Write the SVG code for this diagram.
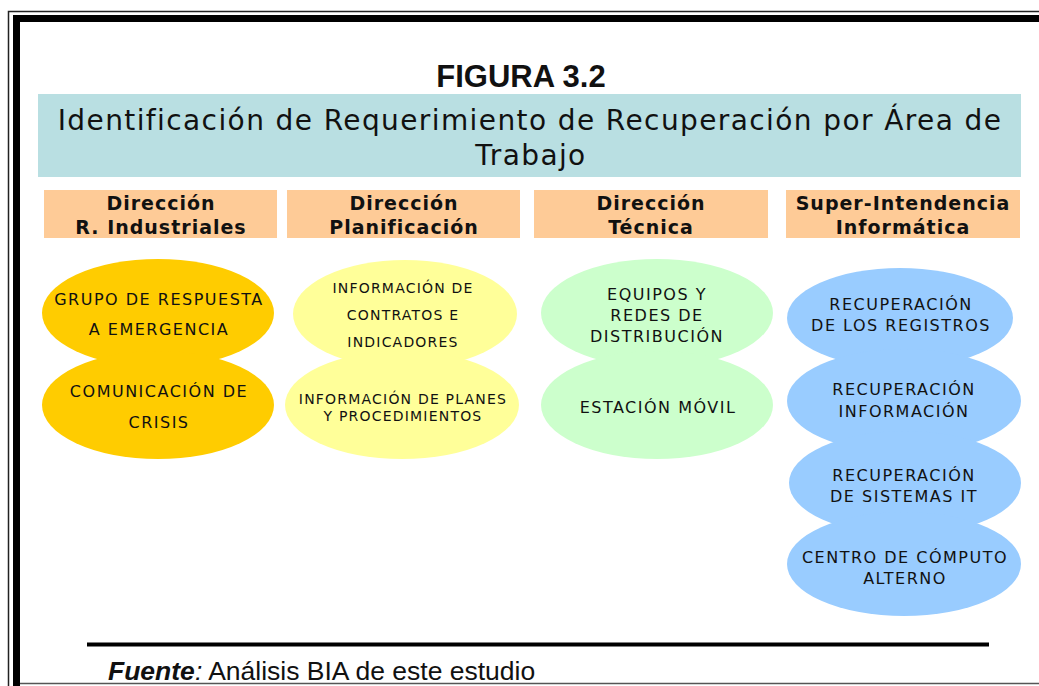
<svg xmlns="http://www.w3.org/2000/svg" width="1039" height="686" viewBox="0 0 1039 686">
<style>
.hdr{fill:#FECB97}
.hdrt{font-family:"DejaVu Sans",Verdana,sans-serif;font-weight:bold;font-size:19px;letter-spacing:1px;fill:#111;text-anchor:middle}
.t16{font-family:"DejaVu Sans",Verdana,sans-serif;font-size:16px;letter-spacing:1.5px;fill:#111;text-anchor:middle}
.t14{font-family:"DejaVu Sans",Verdana,sans-serif;font-size:14px;letter-spacing:1.2px;fill:#111;text-anchor:middle}
.ttl{font-family:"DejaVu Sans",Verdana,sans-serif;font-size:28px;letter-spacing:1.4px;fill:#111;text-anchor:middle}
.or{fill:#FFCC00}.ye{fill:#FFFF99}.gr{fill:#CCFFCC}.bl{fill:#99CCFF}
</style>
<rect width="1039" height="686" fill="#fff"/>
<g id="frame" fill="none">
<path d="M8.5 686V11.5H1039" stroke="#222" stroke-width="1.5"/>
<path d="M16.5 686V18.5H1039" stroke="#000" stroke-width="7"/>
<path d="M20 683.5H1039" stroke="#555" stroke-width="1.5"/>
</g>
<text x="521" y="87" font-family="Liberation Sans,Arial,sans-serif" font-weight="bold" font-size="31" fill="#111" text-anchor="middle">FIGURA 3.2</text>
<g id="title">
<rect x="38" y="94" width="983" height="83" fill="#B9DFE2"/>
<text class="ttl" x="530" y="130">Identificación de Requerimiento de Recuperación por Área de</text>
<text class="ttl" x="531" y="165">Trabajo</text>
</g>
<g id="h1"><rect class="hdr" x="44" y="190" width="233" height="48"/><text class="hdrt" x="161" y="210">Dirección</text><text class="hdrt" x="161" y="234">R. Industriales</text></g>
<g id="h2"><rect class="hdr" x="287" y="190" width="233" height="48"/><text class="hdrt" x="404" y="210">Dirección</text><text class="hdrt" x="404" y="234">Planificación</text></g>
<g id="h3"><rect class="hdr" x="534" y="190" width="234" height="48"/><text class="hdrt" x="651" y="210">Dirección</text><text class="hdrt" x="651" y="234">Técnica</text></g>
<g id="h4"><rect class="hdr" x="786" y="190" width="234" height="48"/><text class="hdrt" x="903" y="210">Super-Intendencia</text><text class="hdrt" x="903" y="234">Informática</text></g>
<g id="connectors"/>
<g id="n1a"><ellipse class="or" cx="158" cy="313" rx="116" ry="54"/><text class="t16" x="159" y="305">GRUPO DE RESPUESTA</text><text class="t16" x="159" y="335">A EMERGENCIA</text></g>
<g id="n1b"><ellipse class="or" cx="158" cy="405" rx="116" ry="54"/><text class="t16" x="159" y="397">COMUNICACIÓN DE</text><text class="t16" x="159" y="428">CRISIS</text></g>
<g id="n2a"><ellipse class="ye" cx="405" cy="314" rx="112" ry="54"/><text class="t14" x="403" y="293">INFORMACIÓN DE</text><text class="t14" x="403" y="320">CONTRATOS E</text><text class="t14" x="403" y="347">INDICADORES</text></g>
<g id="n2b"><ellipse class="ye" cx="402" cy="405" rx="117" ry="54"/><text class="t14" x="403" y="404">INFORMACIÓN DE PLANES</text><text class="t14" x="403" y="421">Y PROCEDIMIENTOS</text></g>
<g id="n3a"><ellipse class="gr" cx="657" cy="313" rx="116" ry="54"/><text class="t16" x="657" y="300">EQUIPOS Y</text><text class="t16" x="657" y="321">REDES DE</text><text class="t16" x="657" y="342">DISTRIBUCIÓN</text></g>
<g id="n3b"><ellipse class="gr" cx="657" cy="405" rx="116" ry="54"/><text class="t16" x="658" y="413">ESTACIÓN MÓVIL</text></g>
<g id="n4a"><ellipse class="bl" cx="900" cy="318" rx="113" ry="50"/><text class="t16" x="901" y="310">RECUPERACIÓN</text><text class="t16" x="901" y="331">DE LOS REGISTROS</text></g>
<g id="n4b"><ellipse class="bl" cx="904" cy="401" rx="117" ry="52"/><text class="t16" x="904" y="395">RECUPERACIÓN</text><text class="t16" x="904" y="417">INFORMACIÓN</text></g>
<g id="n4c"><ellipse class="bl" cx="905" cy="483" rx="116" ry="52"/><text class="t16" x="904" y="481">RECUPERACIÓN</text><text class="t16" x="904" y="502">DE SISTEMAS IT</text></g>
<g id="n4d"><ellipse class="bl" cx="904" cy="564" rx="117" ry="52"/><text class="t16" x="905" y="563">CENTRO DE CÓMPUTO</text><text class="t16" x="905" y="584">ALTERNO</text></g>
<line x1="87" y1="644.5" x2="989" y2="644.5" stroke="#000" stroke-width="4"/>
<text x="108" y="680" font-family="Liberation Sans,Arial,sans-serif" font-size="26.5" fill="#111"><tspan font-weight="bold" font-style="italic">Fuente</tspan><tspan font-style="italic">:</tspan> Análisis BIA de este estudio</text>
</svg>
